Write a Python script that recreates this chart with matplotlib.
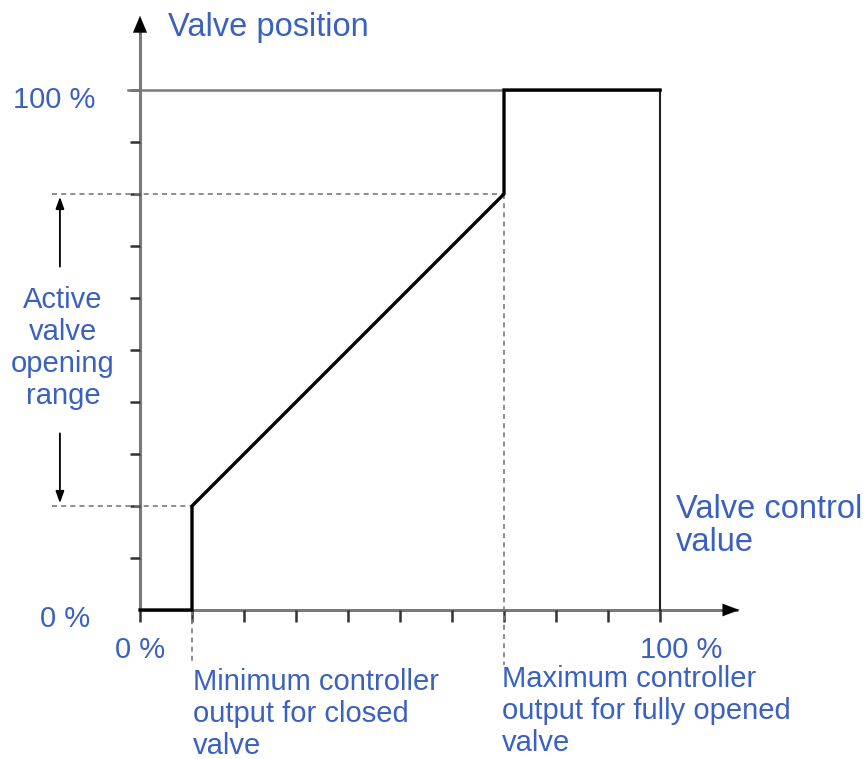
import matplotlib
matplotlib.use("Agg")
import matplotlib.pyplot as plt

# Characteristic curve (controller output % -> valve position %)
ctrl_out = [0, 10, 10, 70, 70, 100]
valve_pos = [0, 0, 20, 80, 100, 100]
x_min_out, x_max_out = 10, 70
y_low, y_high = 20, 80
x_ticks = list(range(0, 101, 10))
y_ticks = list(range(0, 101, 10))

BLUE = "#3a60c2"
GRAY = "#7a7a7a"
FS = 21
FS_TITLE = 23.5

plt.rcParams["font.family"] = ["Liberation Sans", "DejaVu Sans"]

# one data unit = 5.2 px, origin at pixel (140, 610)
fig = plt.figure(figsize=(8.66, 7.59), dpi=100)
ax = fig.add_axes([0, 0, 1, 1])
ax.set_xlim(-140 / 5.2, 726 / 5.2)
ax.set_ylim(-149 / 5.2, 610 / 5.2)
ax.axis("off")

# axes with arrowheads
ax.plot([0, 0], [0, 113], color=GRAY, lw=2.2, solid_capstyle="butt")
ax.plot([0, 115], [0, 0], color=GRAY, lw=2.2, solid_capstyle="butt")
ax.annotate("", xy=(0, 114.8), xytext=(0, 110),
            arrowprops=dict(arrowstyle="-|>,head_length=1.2,head_width=0.5",
                            color="black", lw=0.1))
ax.annotate("", xy=(115.8, 0), xytext=(111, 0),
            arrowprops=dict(arrowstyle="-|>,head_length=1.2,head_width=0.45",
                            color="black", lw=0.1))

# ticks
for t in y_ticks[1:]:
    ax.plot([-2, 0], [t, t], color="#333333", lw=1.8, solid_capstyle="butt")
for t in x_ticks:
    ax.plot([t, t], [0, -2.3], color="#333333", lw=1.8, solid_capstyle="butt")

# top reference line and right edge
ax.plot([-2.3, 100], [100, 100], color=GRAY, lw=1.8)
ax.plot([100, 100], [0, 100], color="#222222", lw=1.5)

# dashed guides
ax.plot([-17, x_max_out], [y_high, y_high], color=GRAY, lw=1.2, ls=(0, (3, 2.5)))
ax.plot([-17, x_min_out], [y_low, y_low], color=GRAY, lw=1.2, ls=(0, (3, 2.5)))
ax.plot([x_min_out, x_min_out], [0, -10.5], color=GRAY, lw=1.2, ls=(0, (3, 2.5)))
ax.plot([x_max_out, x_max_out], [y_high, -10.5], color=GRAY, lw=1.2, ls=(0, (3, 2.5)))

# curve
ax.plot(ctrl_out, valve_pos, color="black", lw=2.4, solid_joinstyle="miter")

# range arrows
ax.annotate("", xy=(-15.4, y_high), xytext=(-15.4, 65.5),
            arrowprops=dict(arrowstyle="-|>,head_length=0.7,head_width=0.25",
                            color="black", lw=1.3))
ax.annotate("", xy=(-15.4, y_low), xytext=(-15.4, 34.5),
            arrowprops=dict(arrowstyle="-|>,head_length=0.7,head_width=0.25",
                            color="black", lw=1.3))

# texts
ax.text(5.4, 112.0, "Valve position", color=BLUE, fontsize=FS_TITLE, va="center", ha="left")
ax.text(-8.5, 98.0, "100 %", color=BLUE, fontsize=FS, va="center", ha="right")
ax.text(-9.6, -1.8, "0 %", color=BLUE, fontsize=FS, va="center", ha="right")
ax.text(0, -7.7, "0 %", color=BLUE, fontsize=FS, va="center", ha="center")
ax.text(104, -7.7, "100 %", color=BLUE, fontsize=FS, va="center", ha="center")
ax.text(-14.8, 50.4, "Active\nvalve\nopening\nrange", color=BLUE, fontsize=FS,
        va="center", ha="center", linespacing=1.18, multialignment="center")
ax.text(103, 16.2, "Valve control\nvalue", color=BLUE, fontsize=FS_TITLE,
        va="center", ha="left", linespacing=1.1)
ax.text(x_min_out + 0.2, -11.2, "Minimum controller\noutput for closed\nvalve",
        color=BLUE, fontsize=FS, va="top", ha="left", linespacing=1.18)
ax.text(x_max_out - 0.4, -10.6, "Maximum controller\noutput for fully opened\nvalve",
        color=BLUE, fontsize=FS, va="top", ha="left", linespacing=1.18)

fig.savefig("out.png", dpi=100)
